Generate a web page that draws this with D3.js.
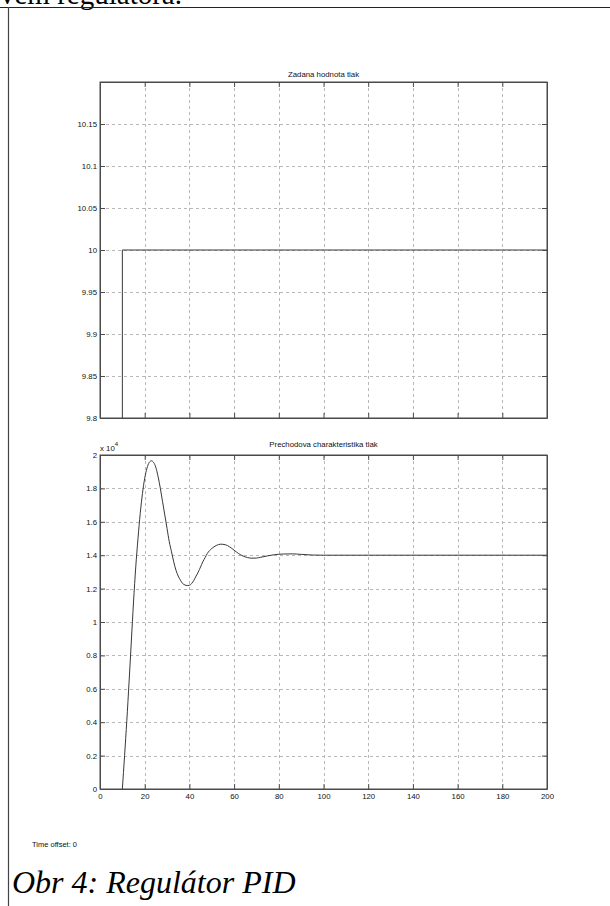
<!DOCTYPE html>
<html>
<head>
<meta charset="utf-8">
<script src="https://cdn.jsdelivr.net/npm/d3@7"></script>
<style>
  html, body { margin: 0; padding: 0; background: #fff; overflow: hidden; }
  svg { display: block; }
</style>
</head>
<body>
<script>
// Setpoint (step at t = 10 to 10 bar)
const setpointTime = [0, 10, 10, 200];
const setpointValue = [0, 0, 10, 10];

// Step response of the pressure loop (units of 1e4)
const responseTime = [10, 11, 12, 13, 14, 15, 16, 17, 18, 19, 20, 21, 22, 23, 24, 25, 26, 27, 28, 29, 30,
  31, 32, 33, 34, 35, 36, 37, 38, 39, 40, 41, 42, 43, 44, 45, 46, 47, 48, 50, 52, 54, 56, 58, 60,
  62, 64, 66, 68, 70, 72, 75, 78, 82, 86, 90, 95, 100, 120, 150, 200];
const responseValue = [0, 0.2, 0.41, 0.64, 0.88, 1.12, 1.33, 1.5, 1.65, 1.77, 1.86, 1.92, 1.955, 1.965, 1.955, 1.925, 1.87, 1.80, 1.72, 1.64, 1.56,
  1.48, 1.42, 1.36, 1.31, 1.275, 1.25, 1.23, 1.222, 1.218, 1.22, 1.23, 1.25, 1.275, 1.30, 1.33, 1.36, 1.385, 1.41, 1.44, 1.458, 1.466, 1.463, 1.45, 1.43,
  1.41, 1.395, 1.386, 1.382, 1.383, 1.388, 1.396, 1.403, 1.407, 1.408, 1.405, 1.401, 1.4, 1.4, 1.4, 1.4];

const xTicks = [0, 20, 40, 60, 80, 100, 120, 140, 160, 180, 200];
const topYTicks = [9.8, 9.85, 9.9, 9.95, 10, 10.05, 10.1, 10.15];
const bottomYTicks = [0, 0.2, 0.4, 0.6, 0.8, 1, 1.2, 1.4, 1.6, 1.8, 2];

const W = 610, H = 906;
const svg = d3.select("body").append("svg").attr("width", W).attr("height", H);

// Page furniture: text above, frame lines
svg.append("text").attr("x", 0).attr("y", 4)
  .attr("font-family", "Liberation Serif, serif").attr("font-size", 29)
  .attr("fill", "#000").text("vém regulátora.");
svg.append("line").attr("x1", 0).attr("x2", W).attr("y1", 7.5).attr("y2", 7.5)
  .attr("stroke", "#222").attr("stroke-width", 1.2);
svg.append("line").attr("x1", 8.5).attr("x2", 8.5).attr("y1", 7).attr("y2", H)
  .attr("stroke", "#444").attr("stroke-width", 1.2);

const font = "Liberation Sans, Arial, sans-serif";
const fs = 7.8;
const axisColor = "#4a4a4a";
const gridColor = "#b8b8b8";
const tickLen = 5;

function panel(opts) {
  const { left, right, top, bottom, yDomain, yTicks, yFmt, xLabels, title, titleY, series, xs, ys, clipId } = opts;
  const x = d3.scaleLinear().domain([0, 200]).range([left, right]);
  const y = d3.scaleLinear().domain(yDomain).range([bottom, top]);
  const g = svg.append("g");

  // grid
  g.append("g").selectAll("line").data(xTicks.filter(d => d > 0 && d < 200)).join("line")
    .attr("x1", d => Math.round(x(d)) + 0.5).attr("x2", d => Math.round(x(d)) + 0.5)
    .attr("y1", top).attr("y2", bottom)
    .attr("stroke", gridColor).attr("stroke-dasharray", "3,3");
  g.append("g").selectAll("line").data(yTicks.filter(d => d > yDomain[0] && d < yDomain[1])).join("line")
    .attr("y1", d => Math.round(y(d)) + 0.5).attr("y2", d => Math.round(y(d)) + 0.5)
    .attr("x1", left).attr("x2", right)
    .attr("stroke", gridColor).attr("stroke-dasharray", "3,3");

  // data line
  svg.append("clipPath").attr("id", clipId).append("rect")
    .attr("x", left).attr("y", top).attr("width", right - left).attr("height", bottom - top);
  const pts = xs.map((t, i) => [t, ys[i]]);
  g.append("path").datum(pts)
    .attr("clip-path", `url(#${clipId})`)
    .attr("fill", "none").attr("stroke", "#383838").attr("stroke-width", 1)
    .attr("d", d3.line().x(d => x(d[0])).y(d => y(d[1])).curve(series));

  // axes (ticks inward, on all sides)
  const bAx = d3.axisBottom(x).tickValues(xTicks).tickSizeInner(-tickLen).tickSizeOuter(0)
    .tickFormat(xLabels ? d3.format("d") : () => "").tickPadding(4.5);
  const tAx = d3.axisTop(x).tickValues(xTicks).tickSizeInner(-tickLen).tickSizeOuter(0).tickFormat(() => "");
  const lAx = d3.axisLeft(y).tickValues(yTicks).tickSizeInner(-tickLen).tickSizeOuter(0).tickFormat(yFmt).tickPadding(3);
  const rAx = d3.axisRight(y).tickValues(yTicks).tickSizeInner(-tickLen).tickSizeOuter(0).tickFormat(() => "");

  const axes = [
    g.append("g").attr("transform", `translate(0,${bottom})`).call(bAx),
    g.append("g").attr("transform", `translate(0,${top})`).call(tAx),
    g.append("g").attr("transform", `translate(${left},0)`).call(lAx),
    g.append("g").attr("transform", `translate(${right},0)`).call(rAx)
  ];
  axes.forEach(a => {
    a.selectAll("path.domain").attr("stroke", axisColor);
    a.selectAll(".tick line").attr("stroke", axisColor);
    a.selectAll("text").attr("font-family", font).attr("font-size", fs).attr("fill", "#111");
  });
  // close the box
  g.append("rect").attr("x", left).attr("y", top).attr("width", right - left).attr("height", bottom - top)
    .attr("fill", "none").attr("stroke", axisColor);

  g.append("text").attr("x", (left + right) / 2).attr("y", titleY)
    .attr("text-anchor", "middle").attr("font-family", font).attr("font-size", fs).attr("fill", "#111")
    .text(title);
  return { x, y, g };
}

panel({
  left: 100, right: 547, top: 82, bottom: 418,
  yDomain: [9.8, 10.2], yTicks: topYTicks, yFmt: d => d3.format("")(+d.toFixed(2)),
  xLabels: false, title: "Zadana hodnota tlak", titleY: 77, series: d3.curveLinear,
  xs: setpointTime, ys: setpointValue, clipId: "clipTop"
});

panel({
  left: 100, right: 547, top: 455, bottom: 789,
  yDomain: [0, 2], yTicks: bottomYTicks, yFmt: d => d3.format("")(+d.toFixed(1)),
  xLabels: true, title: "Prechodova charakteristika tlak", titleY: 447, series: d3.curveMonotoneX,
  xs: responseTime, ys: responseValue, clipId: "clipBottom"
});

// exponent marker above the y axis
const expo = svg.append("text").attr("x", 100).attr("y", 451)
  .attr("font-family", font).attr("font-size", fs).attr("fill", "#111");
expo.append("tspan").text("x 10");
expo.append("tspan").attr("dy", -5).attr("font-size", 6).text("4");

svg.append("text").attr("x", 32).attr("y", 847)
  .attr("font-family", font).attr("font-size", 7.5).attr("fill", "#111")
  .text("Time offset: 0");

svg.append("text").attr("x", 12).attr("y", 893)
  .attr("font-family", "Liberation Serif, serif").attr("font-style", "italic").attr("font-size", 32)
  .attr("fill", "#000").text("Obr 4: Regulátor PID");
</script>
</body>
</html>
